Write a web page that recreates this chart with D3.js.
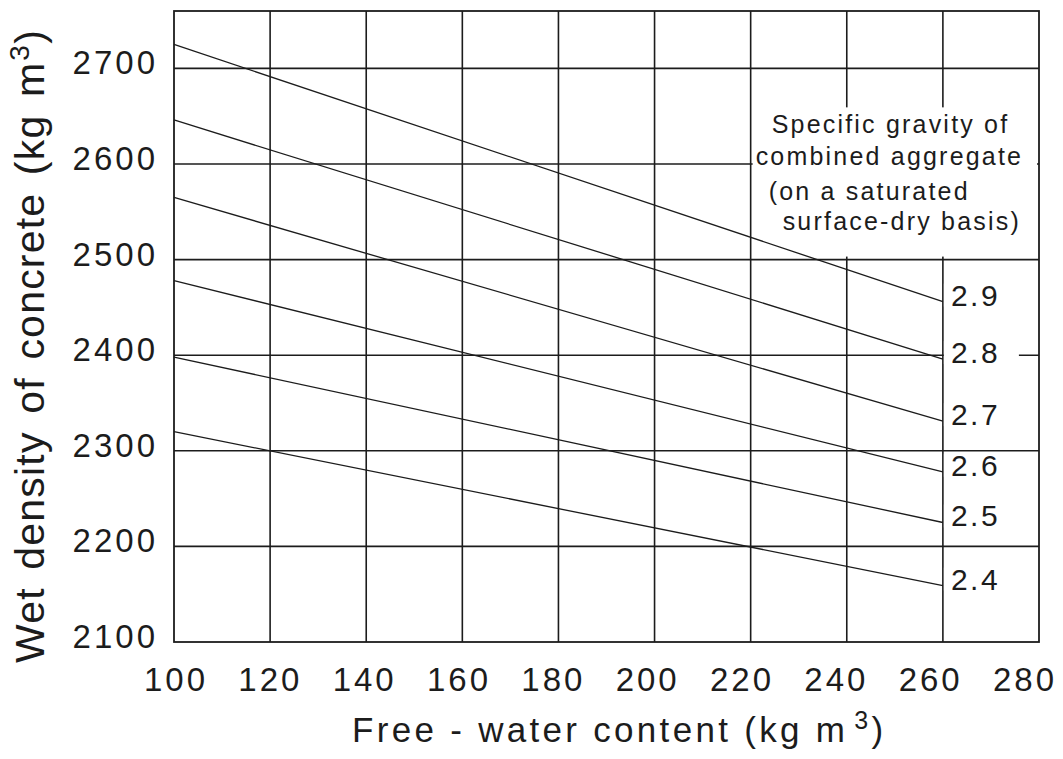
<!DOCTYPE html>
<html><head><meta charset="utf-8">
<script src="https://cdn.jsdelivr.net/npm/d3@7"></script>
<style>
body{margin:0;background:#fff}
text{font-family:"Liberation Sans",Arial,sans-serif;fill:#1c1c1c}
</style>
</head><body>
<svg id="chart" width="1063" height="759"></svg>
<script>
// ---- data ----
const xTicks = [100, 120, 140, 160, 180, 200, 220, 240, 260, 280];
const yTicks = [2100, 2200, 2300, 2400, 2500, 2600, 2700];
const waterContent = [100, 260];
const gravity = ["2.9", "2.8", "2.7", "2.6", "2.5", "2.4"];
const densityAt100 = [2725, 2646, 2565, 2478, 2398, 2320];
const densityAt260 = [2456, 2396, 2331, 2278, 2225, 2159];
const legendLines = ["Specific gravity of", "combined aggregate", "(on a saturated", "surface-dry basis)"];
const xTitle = "Free - water content (kg m";
const yTitle = "Wet density of concrete (kg m";

// ---- scales ----
const svg = d3.select("#chart");
const x = d3.scaleLinear().domain([100, 280]).range([174, 1039]);
const y = d3.scaleLinear().domain([2100, 2760]).range([642, 11]);
const xLab = d3.scaleLinear().domain([100, 280]).range([176, 1025]);
const ink = "#1c1c1c";

// grid
const g = svg.append("g");
g.selectAll("line.h").data(yTicks.slice(1)).join("line")
  .attr("x1", x(100)).attr("x2", x(280))
  .attr("y1", d => y(d)).attr("y2", d => y(d))
  .attr("stroke", ink).attr("stroke-width", 1.6);
g.selectAll("line.v").data(xTicks.slice(1, -1)).join("line")
  .attr("y1", y(2100)).attr("y2", y(2760))
  .attr("x1", d => x(d)).attr("x2", d => x(d))
  .attr("stroke", ink).attr("stroke-width", 1.6);
// frame
svg.append("rect").attr("x", x(100)).attr("y", y(2760))
  .attr("width", x(280) - x(100)).attr("height", y(2100) - y(2760))
  .attr("fill", "none").attr("stroke", ink).attr("stroke-width", 1.8);

// legend box blank area
svg.append("rect").attr("x", x(220) + 2).attr("y", y(2700) + 39)
  .attr("width", x(280) - x(220) - 4).attr("height", y(2500) - y(2700) - 42)
  .attr("fill", "#fff");

// data lines
const rows = gravity.map((gv, i) => ({gv, pts: [[waterContent[0], densityAt100[i]], [waterContent[1], densityAt260[i]]]}));
const line = d3.line().x(d => x(d[0])).y(d => y(d[1]));
svg.selectAll("path.s").data(rows).join("path")
  .attr("d", d => line(d.pts)).attr("fill", "none")
  .attr("stroke", ink).attr("stroke-width", 1.3);

// series labels
const lab = svg.append("g");
lab.selectAll("rect").data(rows).join("rect")
  .attr("x", x(260) + 1).attr("width", 75)
  .attr("y", d => y(d.pts[1][1]) + 4 - 22).attr("height", 23)
  .attr("fill", "#fff");
lab.selectAll("text").data(rows).join("text")
  .attr("x", x(260) + 8).attr("y", d => y(d.pts[1][1]) + 4)
  .attr("font-size", 30).attr("letter-spacing", 2.5)
  .text(d => d.gv);

// legend text
const legOff = [[21, 65], [5, 97], [18, 132], [32, 162]];
svg.append("g").selectAll("text").data(legendLines).join("text")
  .attr("x", (d, i) => x(220) + legOff[i][0])
  .attr("y", (d, i) => y(2700) + legOff[i][1])
  .attr("font-size", 25).attr("letter-spacing", 2.2)
  .text(d => d);

// tick labels
svg.append("g").selectAll("text").data(xTicks).join("text")
  .attr("x", d => xLab(d)).attr("y", 691)
  .attr("text-anchor", "middle").attr("font-size", 33).attr("letter-spacing", 3)
  .text(d => d);
svg.append("g").selectAll("text").data(yTicks).join("text")
  .attr("x", 158).attr("y", d => y(d) + 6)
  .attr("text-anchor", "end").attr("font-size", 33).attr("letter-spacing", 3)
  .text(d => d);

// axis titles
const xt = svg.append("text").attr("x", 352).attr("y", 742)
  .attr("font-size", 35).attr("letter-spacing", 3.3);
xt.append("tspan").text(xTitle);
xt.append("tspan").attr("dx", 6).attr("dy", -13).attr("font-size", 25).text("3");
xt.append("tspan").attr("dy", 13).text(")");

const yt = svg.append("text").attr("transform", "translate(44,663) rotate(-90)")
  .attr("font-size", 41).attr("letter-spacing", 1.2).attr("word-spacing", 5);
yt.append("tspan").text(yTitle);
yt.append("tspan").attr("dx", 1).attr("dy", -15).attr("font-size", 28).text("3");
yt.append("tspan").attr("dy", 15).text(")");
</script>
</body></html>
